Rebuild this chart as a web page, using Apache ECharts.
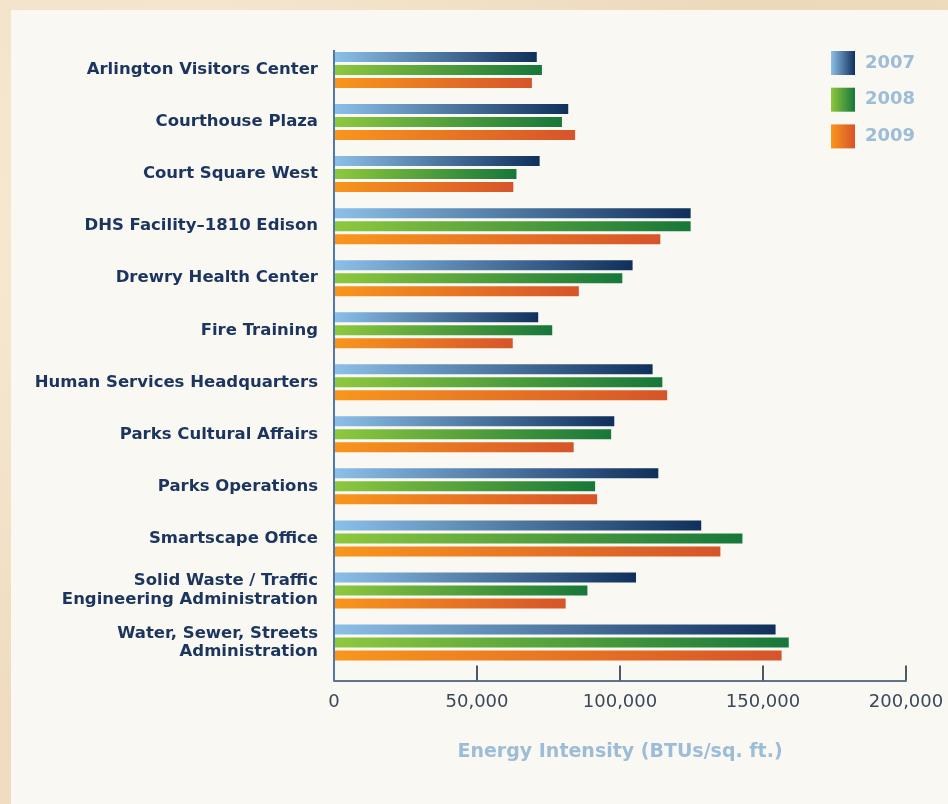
<!DOCTYPE html>
<html>
<head>
<meta charset="utf-8">
<script src="https://cdn.jsdelivr.net/npm/echarts@6/dist/echarts.min.js"></script>
<style>
  html, body { margin: 0; padding: 0; width: 948px; height: 804px; overflow: hidden; }
  body {
    background: #f1dfc4;
    background-image:
      radial-gradient(ellipse at 20% 30%, rgba(255,245,228,0.5), rgba(0,0,0,0) 60%),
      radial-gradient(ellipse at 80% 10%, rgba(230,208,175,0.5), rgba(0,0,0,0) 50%),
      radial-gradient(ellipse at 5% 90%, rgba(238,218,190,0.6), rgba(0,0,0,0) 50%);
  }
  #panel { position: absolute; left: 11px; top: 10px; right: 0; bottom: 0; background: #f9f8f2; }
  #chart { position: absolute; left: 0; top: 0; width: 948px; height: 804px; }
</style>
</head>
<body>
<div id="panel"></div>
<div id="chart"></div>
<script>
const categories = [
  'Arlington Visitors Center',
  'Courthouse Plaza',
  'Court Square West',
  'DHS Facility\u20131810 Edison',
  'Drewry Health Center',
  'Fire Training',
  'Human Services Headquarters',
  'Parks Cultural Affairs',
  'Parks Operations',
  'Smartscape Office',
  'Solid Waste / Traffic\nEngineering Administration',
  'Water, Sewer, Streets\nAdministration'
];
const seriesNames = ['2007', '2008', '2009'];
const values2007 = [70900, 81900, 71900, 124700, 104400, 71400, 111400, 98000, 113400, 128400, 105600, 154400];
const values2008 = [72700, 79700, 63800, 124700, 100800, 76300, 114800, 96900, 91300, 142800, 88600, 159000];
const values2009 = [69200, 84300, 62700, 114100, 85600, 62500, 116500, 83800, 92000, 135100, 81000, 156500];
const xTicks = [0, 50000, 100000, 150000, 200000];

function grad(c0, c1) {
  return new echarts.graphic.LinearGradient(0, 0, 1, 0, [
    { offset: 0, color: c0 }, { offset: 1, color: c1 }
  ]);
}
const colors = [
  grad('#8cc0e8', '#10305c'),
  grad('#8ec83e', '#17773a'),
  grad('#f8961c', '#d6542a')
];
const dataSets = [values2007, values2008, values2009];

const chart = echarts.init(document.getElementById('chart'), null, { renderer: 'canvas' });
const font = "'DejaVu Sans', Verdana, sans-serif";

const option = {
  backgroundColor: 'transparent',
  animation: false,
  grid: { left: 334, top: 44, width: 572, height: 624.5, containLabel: false },
  legend: {
    orient: 'vertical',
    left: 826, top: 46,
    itemWidth: 24, itemHeight: 24, itemGap: 12.7,
    icon: 'rect',
    data: seriesNames,
    textStyle: { color: '#9dbcd8', fontSize: 18, fontWeight: 'bold', fontFamily: font, padding: [0, 0, 0, 5] }
  },
  xAxis: {
    type: 'value',
    min: xTicks[0], max: xTicks[xTicks.length - 1], interval: 50000,
    offset: 12,
    axisLine: { show: true, lineStyle: { color: '#5f7389', width: 2 } },
    axisTick: { show: true, inside: true, length: 15, lineStyle: { color: '#4d5966', width: 2 } },
    splitLine: { show: false },
    axisLabel: {
      color: '#3a4858', fontSize: 18, fontFamily: font, margin: 13,
      formatter: v => v.toLocaleString('en-US')
    },
    name: 'Energy Intensity (BTUs/sq. ft.)',
    nameLocation: 'middle', nameGap: 62,
    nameTextStyle: { color: '#9dbcd8', fontSize: 19, fontWeight: 'bold', fontFamily: font }
  },
  yAxis: {
    type: 'category',
    inverse: true,
    data: categories,
    axisLine: { show: false },
    axisTick: { show: false },
    axisLabel: {
      color: '#1b355f', fontSize: 16.5, fontWeight: 'bold', fontFamily: font,
      margin: 16, lineHeight: 18.5, align: 'right'
    }
  },
  series: seriesNames.map((name, i) => ({
    name: name,
    type: 'bar',
    data: dataSets[i],
    barWidth: 10,
    barGap: '30%',
    itemStyle: { color: colors[i] }
  }))
};
chart.setOption(option);

const x0 = chart.convertToPixel({ xAxisIndex: 0 }, 0);
chart.setOption({
  graphic: [{
    type: 'line',
    shape: { x1: x0, y1: 50, x2: x0, y2: 681 },
    style: { stroke: '#4f79a8', lineWidth: 2 },
    z: 10
  }]
});
</script>
</body>
</html>
